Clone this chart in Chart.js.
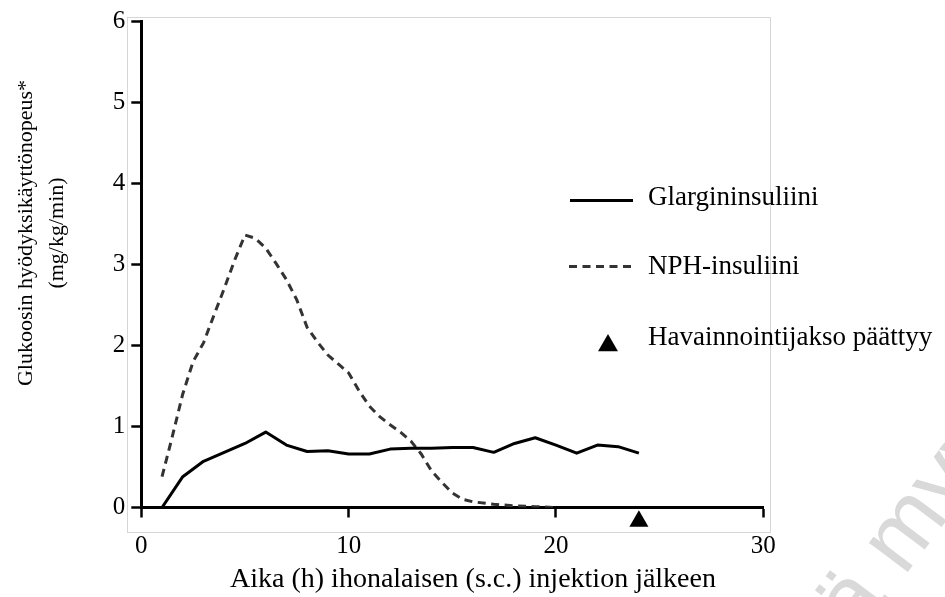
<!DOCTYPE html>
<html>
<head>
<meta charset="utf-8">
<script src="https://cdn.jsdelivr.net/npm/chart.js@4.4.1/dist/chart.umd.min.js"></script>
<style>
html,body{margin:0;padding:0;background:#fff;}
#wrap{width:945px;height:597px;position:relative;}
</style>
</head>
<body>
<div id="wrap"><canvas id="c" width="945" height="597"></canvas></div>
<script>
// ---- data ----
const glargineHours = [1,2,3,4,5,6,7,8,9,10,11,12,13,14,15,16,17,18,19,20,21,22,23,24];
const glargineRate  = [0,0.38,0.57,0.68,0.79,0.93,0.77,0.69,0.70,0.66,0.66,0.72,0.73,0.73,0.74,0.74,0.68,0.79,0.86,0.77,0.67,0.77,0.75,0.67];
const nphHours = [1,1.5,2,2.5,3,3.5,4,4.5,5,5.5,6,6.5,7,7.5,8,8.5,9,9.5,10,10.5,11,11.5,12,12.5,13,13.5,14,14.5,15,15.5,16,17,18,19,20];
const nphRate  = [0.38,0.88,1.40,1.80,2.03,2.37,2.70,3.05,3.36,3.32,3.20,3.01,2.81,2.56,2.22,2.04,1.88,1.77,1.66,1.44,1.25,1.12,1.02,0.93,0.82,0.66,0.45,0.31,0.18,0.10,0.07,0.04,0.02,0.01,0.00];
const observationEndHour   = [24];
const observationEndMarker = [-0.17];
const xTickValues = [0,10,20,30];
const yTickValues = [0,1,2,3,4,5,6];
const seriesLabels = ['Glargininsuliini','NPH-insuliini','Havainnointijakso päättyy'];
const xTitle = 'Aika (h) ihonalaisen (s.c.) injektion jälkeen';
const yTitleLines = ['Glukoosin hyödyksikäyttönopeus*','(mg/kg/min)'];
const watermarkText = 'Lääkevalmisteella ei enää myyntilupaa';

const SERIF = "'Liberation Serif', 'Times New Roman', serif";
Chart.defaults.font.family = SERIF;
Chart.defaults.font.size = 25;
Chart.defaults.color = '#000';
const toPoints = (xs, ys) => xs.map((x, i) => ({x: x, y: ys[i]}));

const decor = {
  id: 'decor',
  beforeDraw(chart) {
    const ctx = chart.ctx, a = chart.chartArea;
    ctx.save();
    ctx.fillStyle = '#fff';
    ctx.fillRect(0, 0, chart.width, chart.height);
    // watermark (partially visible, lower right)
    ctx.font = "92px 'Liberation Sans', Arial, sans-serif";
    ctx.fillStyle = '#d9d9d9';
    ctx.textBaseline = 'alphabetic';
    ctx.textAlign = 'left';
    const idx = watermarkText.indexOf(' m') + 1;
    const before = ctx.measureText(watermarkText.slice(0, idx)).width;
    const mW = ctx.measureText('m').width;
    ctx.translate(908, 532);
    ctx.rotate(-53 * Math.PI / 180);
    ctx.fillText(watermarkText, -(before + mW / 2), 0.26 * 92);
    ctx.restore();
    // light frame around the plot
    ctx.save();
    ctx.strokeStyle = '#d6d6d6';
    ctx.lineWidth = 1;
    const l = Math.round(a.left - 14) + 0.5, t = Math.round(a.top - 4) + 0.5;
    const r = Math.round(a.right + 7) + 0.5, b = Math.round(a.bottom + 24) + 0.5;
    ctx.strokeRect(l, t, r - l, b - t);
    ctx.restore();
  },
  afterDraw(chart) {
    const ctx = chart.ctx;
    ctx.save();
    ctx.fillStyle = '#000';
    // x title
    ctx.font = '28px ' + SERIF;
    ctx.textAlign = 'center';
    ctx.textBaseline = 'alphabetic';
    ctx.fillText(xTitle, 473, 587);
    // y title (two lines)
    ctx.save();
    ctx.font = '22px ' + SERIF;
    ctx.translate(32, 233);
    ctx.rotate(-Math.PI / 2);
    ctx.fillText(yTitleLines[0], 0, 0);
    ctx.fillText(yTitleLines[1], 0, 31);
    ctx.restore();
    // legend
    ctx.lineWidth = 3;
    ctx.strokeStyle = '#000';
    ctx.beginPath(); ctx.moveTo(570, 200.5); ctx.lineTo(633, 200.5); ctx.stroke();
    ctx.strokeStyle = '#333';
    ctx.setLineDash([8, 5.5]);
    ctx.beginPath(); ctx.moveTo(569, 266.5); ctx.lineTo(634, 266.5); ctx.stroke();
    ctx.setLineDash([]);
    ctx.fillStyle = '#000';
    Chart.helpers.drawPoint(ctx, {pointStyle: 'triangle', radius: 11.5, rotation: 0, borderWidth: 0}, 608, 345.5);
    ctx.fillStyle = '#000';
    ctx.font = '27px ' + SERIF;
    ctx.textAlign = 'left';
    ctx.fillText(seriesLabels[0], 648, 205);
    ctx.fillText(seriesLabels[1], 648, 273.5);
    ctx.fillText(seriesLabels[2], 648, 345);
    ctx.restore();
  }
};

new Chart(document.getElementById('c'), {
  type: 'line',
  data: {
    datasets: [
      {
        label: seriesLabels[0],
        data: toPoints(glargineHours, glargineRate),
        borderColor: '#000',
        borderWidth: 3,
        pointRadius: 0,
        tension: 0,
        fill: false,
        borderJoinStyle: 'round'
      },
      {
        label: seriesLabels[1],
        data: toPoints(nphHours, nphRate),
        borderColor: '#333',
        borderWidth: 3,
        borderDash: [8, 5.5],
        pointRadius: 0,
        tension: 0,
        fill: false
      },
      {
        label: seriesLabels[2],
        data: toPoints(observationEndHour, observationEndMarker),
        showLine: false,
        pointStyle: 'triangle',
        pointRadius: 11,
        pointBackgroundColor: '#000',
        pointBorderColor: 'rgba(0,0,0,0)',
        pointBorderWidth: 6,
        clip: false
      }
    ]
  },
  options: {
    responsive: false,
    animation: false,
    layout: {padding: {left: 0, right: 181.7, top: 20, bottom: 0}},
    plugins: {legend: {display: false}, tooltip: {enabled: false}},
    scales: {
      x: {
        type: 'linear',
        min: 0, max: 30,
        afterBuildTicks: s => { s.ticks = xTickValues.map(v => ({value: v})); },
        afterFit: s => { s.height = 89.5; },
        grid: {display: true, drawOnChartArea: false, drawTicks: true, tickLength: 10, tickColor: '#000', tickWidth: 2.5},
        border: {display: true, color: '#000', width: 3},
        ticks: {color: '#000', font: {family: SERIF, size: 25}, padding: 14, maxRotation: 0, autoSkip: false}
      },
      y: {
        type: 'linear',
        min: 0, max: 6,
        afterBuildTicks: s => { s.ticks = yTickValues.map(v => ({value: v})); },
        afterFit: s => { s.width = 141.3; },
        grid: {display: true, drawOnChartArea: false, drawTicks: true, tickLength: 10, tickColor: '#000', tickWidth: 2.5},
        border: {display: true, color: '#000', width: 3},
        ticks: {color: '#000', font: {family: SERIF, size: 25}, padding: 6, autoSkip: false}
      }
    }
  },
  plugins: [decor]
});
</script>
</body>
</html>
